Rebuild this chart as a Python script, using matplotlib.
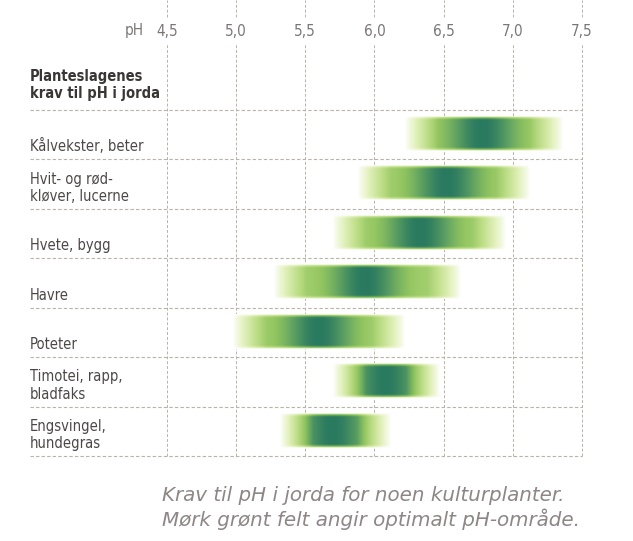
import numpy as np
import matplotlib.pyplot as plt
from matplotlib.colors import LinearSegmentedColormap

# plantegrupper og pH-krav (lav, høy, optimum)
planter = ["Kålvekster, beter", "Hvit- og rød-\nkløver, lucerne", "Hvete, bygg",
           "Havre", "Poteter", "Timotei, rapp,\nbladfaks", "Engsvingel,\nhundegras"]
ph_lav = [6.22, 5.88, 5.70, 5.27, 4.98, 5.70, 5.32]
ph_hoy = [7.36, 7.12, 6.95, 6.62, 6.22, 6.47, 6.12]
ph_opt = [6.78, 6.52, 6.33, 5.93, 5.60, 6.08, 5.70]

ph_ticks = [4.5, 5.0, 5.5, 6.0, 6.5, 7.0, 7.5]
ph_labels = ["4,5", "5,0", "5,5", "6,0", "6,5", "7,0", "7,5"]

grey = "#7a7676"
linecol = "#b9b2a6"
smal = dict(family="DejaVu Sans", fontstretch="condensed")

cmap = LinearSegmentedColormap.from_list(
    "gronn", ["#ffffff", "#e3f1bd", "#bcdd85", "#92c560", "#5c9f62", "#2a7a60"])

fig = plt.figure(figsize=(6.33, 5.41), dpi=100)
W, H = 633, 541
ax = fig.add_axes([167 / W, 1 - 456 / H, (582 - 167) / W, (456 - 110) / H])
ax.set_xlim(4.5, 7.5)
ax.set_ylim(len(planter), 0)
for s in ax.spines.values():
    s.set_visible(False)
ax.set_yticks([])

# gradient-felt for hver plante
for i in range(len(planter)):
    lo, hi, opt = ph_lav[i], ph_hoy[i], ph_opt[i]
    x = np.linspace(lo, hi, 400)
    y = np.linspace(0, 1, 60)
    X, Y = np.meshgrid(x, y)
    core = 0.5 + 0.5 * np.exp(-((X - opt) / 0.25) ** 2)
    fade = np.clip((X - lo) / 0.24, 0, 1) * np.clip((hi - X) / 0.24, 0, 1)
    vfade = np.clip(Y / 0.1, 0, 1) * np.clip((1 - Y) / 0.1, 0, 1)
    val = core * fade ** 0.8 * vfade ** 0.5
    ax.imshow(val, cmap=cmap, vmin=0, vmax=1, aspect="auto", interpolation="bilinear",
              extent=(lo, hi, i + 0.83, i + 0.14), zorder=2)

# rutenett
ax.vlines(ph_ticks, 0, 1.194, transform=ax.get_xaxis_transform(), clip_on=False,
          colors=linecol, linestyles=(0, (3, 2)), linewidth=0.7, zorder=1)
ax.vlines(ph_ticks, 1.269, 1.318, transform=ax.get_xaxis_transform(), clip_on=False,
          colors=linecol, linestyles=(0, (3, 2)), linewidth=0.7, zorder=1)
ax.hlines(np.arange(len(planter) + 1), -0.33, 1.0, transform=ax.get_yaxis_transform(),
          clip_on=False, colors=linecol, linestyles=(0, (3, 2)), linewidth=0.8, zorder=3)

ax.xaxis.tick_top()
ax.set_xticks(ph_ticks, ph_labels)
ax.tick_params(axis="x", length=0, pad=51, labelsize=11, labelcolor=grey)
for lab in ax.get_xticklabels():
    lab.set_fontstretch("condensed")

fig.text(125 / W, 1 - 30 / H, "pH", ha="left", va="center", fontsize=11,
         color=grey, **smal)

for i, navn in enumerate(planter):
    ax.text(-0.33, i + 0.9, navn, transform=ax.get_yaxis_transform(), ha="left",
            va="bottom", fontsize=10.5, color="#4d4848", linespacing=1.2, **smal)

fig.text(30 / W, 1 - 101 / H, "Planteslagenes\nkrav til pH i jorda", ha="left",
         va="bottom", fontsize=10.5, fontweight="bold", color="#3a3636",
         linespacing=1.15, **smal)

fig.text(162 / W, 1 - 508 / H,
         "Krav til pH i jorda for noen kulturplanter.\nMørk grønt felt angir optimalt pH-område.",
         ha="left", va="center", fontsize=14.3, style="italic", color="#8e8686",
         family="DejaVu Sans", linespacing=1.18)

fig.savefig("out.png", dpi=100, facecolor="white")
